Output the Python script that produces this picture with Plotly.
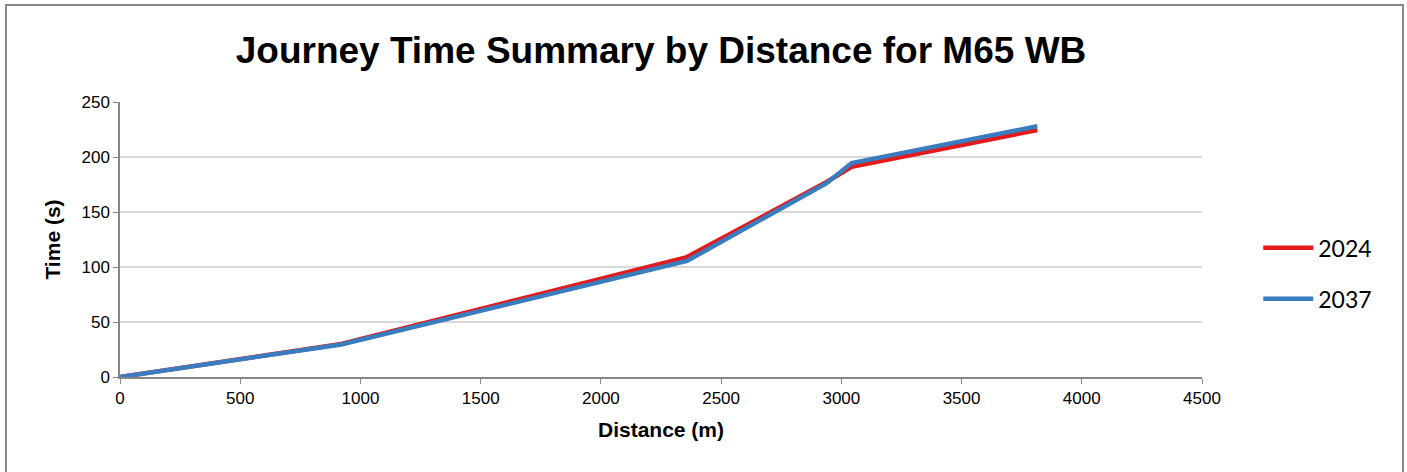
import plotly.graph_objects as go

# journey time vs distance, M65 westbound
distance_m = [0, 920, 2358, 2937, 3043, 3815]
time_2024 = [0, 30, 109, 177, 191, 224.5]
time_2037 = [0, 29.5, 105.5, 176, 194.5, 228]

series = [("2024", time_2024, "#e31a1c"), ("2037", time_2037, "#3a7dbf")]

fig = go.Figure()
for name, ys, col in series:
    fig.add_trace(go.Scatter(
        x=distance_m, y=ys, name=name, mode="lines", legendgroup=name,
        line=dict(color=col, width=4.5),
        hoverinfo="x+y+name"))

axis_font = dict(family="Arial, Liberation Sans", size=17, color="black")
title_font = dict(family="Arial, Liberation Sans", size=21, color="black")

fig.update_layout(
    width=1407, height=472,
    paper_bgcolor="white", plot_bgcolor="white",
    margin=dict(l=120, r=205, t=102, b=95),
    title=dict(text="<b>Journey Time Summary by Distance for M65 WB</b>",
               x=0.5, xanchor="center", xref="paper", y=0.895, yanchor="middle",
               font=dict(family="Arial, Liberation Sans", size=37, color="black")),
    xaxis=dict(range=[0, 4500], dtick=500, showgrid=False, zeroline=False,
               showline=True, linecolor="#868686", linewidth=1.5,
               ticks="outside", ticklen=5, tickcolor="#868686",
               tickfont=axis_font,
               title=dict(text="<b>Distance (m)</b>", standoff=15, font=title_font)),
    yaxis=dict(range=[0, 250], dtick=50, showgrid=True, gridcolor="#d9d9d9",
               gridwidth=1.5, zeroline=False,
               showline=True, linecolor="#868686", linewidth=1.5,
               ticks="outside", ticklen=5, tickcolor="#868686",
               tickfont=axis_font,
               title=dict(text="<b>Time (s)</b>", standoff=15, font=title_font)),
    legend=dict(x=1.052, y=0.377, xanchor="left", yanchor="middle",
                font=dict(family="Lato, Open Sans", size=23, color="black"),
                tracegroupgap=18, itemwidth=50),
    showlegend=True,
)

# outer chart frame
fig.add_shape(type="rect", xref="paper", yref="paper",
              x0=-0.1054, x1=1.1858, y0=-0.45, y1=1.353,
              line=dict(color="#888888", width=2), fillcolor="rgba(0,0,0,0)")

fig.write_html("out.html", config={"displayModeBar": False},
               post_script="document.body.style.margin='0';")
